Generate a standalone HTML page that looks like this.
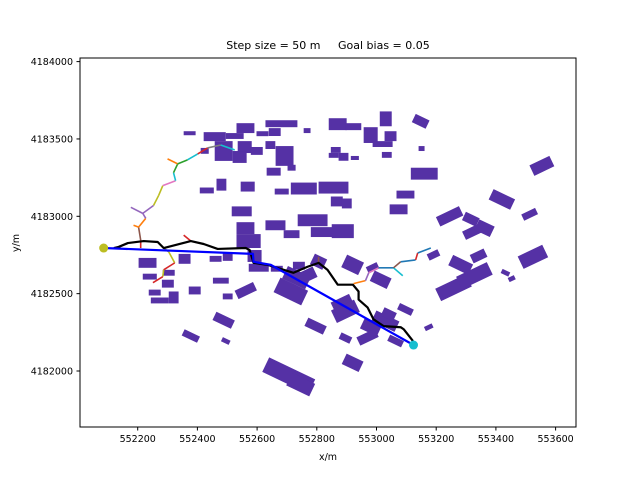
<!DOCTYPE html>
<html><head><meta charset="utf-8"><style>
body{margin:0;background:#fff}
svg{display:block;font-family:"DejaVu Sans","Liberation Sans",sans-serif}
</style></head><body>
<svg id="chart" width="640" height="480" viewBox="0 0 640 480">
<rect width="640" height="480" fill="#fff"/>
<text x="328" y="49" text-anchor="middle" font-size="11" xml:space="preserve">Step size = 50 m     Goal bias = 0.05</text>
<g id="plot"></g>
<text x="328" y="460" text-anchor="middle" font-size="9.5">x/m</text>
<text x="19" y="243" text-anchor="middle" font-size="9.5" transform="rotate(-90 19 243)">y/m</text>
</svg>
<script>
const xTicks=[552200,552400,552600,552800,553000,553200,553400,553600];
const yTicks=[4182000,4182500,4183000,4183500,4184000];
// buildings: [xLeft, yTop, width, height] in metres
const rectBuildings=[[552354,4183550,40,26],[552421,4183544,74,58],[552495,4183538,60,38],[552531,4183602,60,64],[552598,4183550,40,32],[552628,4183621,107,45],[552639,4183570,40,51],[552756,4183570,23,32],[552840,4183634,60,77],[552896,4183602,53,45],[553011,4183678,40,96],[553027,4183550,40,64],[552957,4183576,47,102],[552987,4183486,67,38],[552458,4183486,60,128],[552411,4183442,27,38],[552535,4183486,47,77],[552579,4183448,40,51],[552662,4183454,60,128],[552628,4183486,33,51],[552518,4183422,47,77],[552847,4183448,33,38],[552873,4183410,33,51],[552914,4183390,27,26],[552840,4183410,33,32],[553018,4183416,33,38],[553141,4183454,20,32],[552632,4183314,47,51],[552702,4183333,27,38],[553115,4183314,90,77],[552408,4183186,47,38],[552464,4183243,33,77],[552545,4183224,47,64],[552659,4183179,47,38],[552713,4183218,87,77],[552806,4183224,100,77],[552847,4183128,40,64],[552884,4183115,33,64],[553067,4183166,60,51],[553044,4183077,60,64],[552515,4183064,67,64],[552736,4183013,100,77],[552531,4182962,60,77],[552628,4182974,67,64],[552780,4182930,87,64],[552850,4182949,74,90],[552531,4182885,81,90],[552689,4182910,53,51],[552568,4182782,47,77],[552572,4182693,67,51],[552441,4182744,40,38],[552485,4182763,33,51],[552203,4182731,60,64],[552217,4182629,47,38],[552337,4182757,40,64],[552284,4182654,40,38],[552237,4182526,40,38],[552244,4182475,60,38],[552281,4182590,40,51],[552304,4182514,33,77],[552371,4182546,40,51],[552452,4182603,53,38],[552485,4182501,33,38],[552646,4182680,40,38],[552720,4182706,40,51]];
// rotated buildings: [cx, cy, length, width, angleDeg]
const rotBuildings=[[552488,4182328,24,8,30],[552378,4182226,20,6,30],[552495,4182194,10,4,30],[552562,4182520,24,8,-30],[552732,4182603,30,12,30],[552713,4182514,36,14,30],[552766,4182616,22,10,-30],[552920,4182686,22,12,30],[552987,4182667,14,6,-30],[552887,4182430,24,12,-30],[553014,4182590,22,10,30],[552796,4182290,24,8,30],[552896,4182386,30,12,-30],[552981,4182283,22,10,30],[553030,4182322,30,10,30],[552970,4182219,24,8,-30],[553064,4182194,18,6,30],[553097,4182398,18,6,30],[553041,4182366,16,8,30],[552896,4182213,14,6,30],[552920,4182053,22,10,30],[552706,4181970,60,14,30],[552746,4181912,30,12,30],[553148,4183614,18,8,30],[553191,4182750,14,6,-30],[553175,4182283,10,4,-30],[553258,4182539,40,12,-30],[553328,4182616,40,12,-30],[553282,4182686,26,10,30],[553342,4182744,18,8,-30],[553245,4183000,30,9,-30],[553316,4182981,18,8,30],[553319,4182898,20,8,-30],[553362,4182923,20,10,30],[553420,4183109,28,10,30],[553513,4183013,18,6,-30],[553554,4183326,26,10,-30],[553524,4182738,32,12,-30],[553432,4182635,10,4,30],[553453,4182597,8,4,-30],[552806,4182706,16,10,30]];
// search tree branches
const treeColors=["#d62728","#8c564b","#ff7f0e","#ff7f0e","#9467bd","#9467bd","#bcbd22","#bcbd22","#e377c2","#17becf","#2ca02c","#ff7f0e","#2ca02c","#17becf","#d62728","#7f7f7f","#17becf","#d62728","#8c564b","#7f7f7f","#bcbd22","#d62728","#bcbd22","#d62728","#ff7f0e","#9467bd","#e377c2","#1f77b4","#17becf","#8c564b","#1f77b4","#d62728","#1f77b4","#9467bd"];
const treeX0=[552210,552210,552203,552203,552227,552217,552253,552270,552284,552327,552320,552334,552334,552367,552401,552434,552478,552354,552806,552287,552304,552324,552287,552284,552923,552963,552974,553007,553057,553057,553081,553131,553138,552217];
const treeY0=[4182795,4182846,4182930,4182930,4182987,4183019,4183070,4183134,4183198,4183230,4183282,4183339,4183339,4183365,4183403,4183442,4183461,4182878,4182738,4182795,4182770,4182699,4182654,4182610,4182565,4182584,4182635,4182667,4182667,4182667,4182706,4182718,4182763,4183019];
const treeX1=[552210,552203,552186,552227,552217,552177,552270,552284,552327,552320,552334,552300,552367,552401,552434,552478,552525,552378,552806,552304,552324,552287,552284,552251,552963,552974,553007,553057,553088,553081,553131,553138,553182,552253];
const treeY1=[4182846,4182930,4182942,4182987,4183019,4183058,4183134,4183198,4183230,4183282,4183339,4183371,4183365,4183403,4183442,4183461,4183429,4182840,4182699,4182770,4182699,4182654,4182610,4182571,4182584,4182635,4182667,4182667,4182616,4182706,4182718,4182763,4182795,4183070];
const pathX=[552120,552136,552167,552220,552267,552287,552378,552421,552468,552562,552575,552588,552635,552722,552769,552806,552836,552870,552921,552940,552940,552970,552990,553024,553081,553091,553122];
const pathY=[4182795,4182802,4182827,4182840,4182834,4182795,4182840,4182821,4182789,4182795,4182782,4182699,4182686,4182635,4182674,4182699,4182654,4182558,4182558,4182514,4182462,4182411,4182334,4182290,4182283,4182270,4182194];
const smoothX=[552086,552586,552588,552646,553124];
const smoothY=[4182795,4182757,4182706,4182686,4182168];
const startPt=[552086,4182795];
const goalPt=[553124,4182168];

const sx=x=>137.7+(x-552200)*0.2985;
const sy=y=>371-(y-4182000)*0.1547;
const NS="http://www.w3.org/2000/svg";
const plot=document.getElementById('plot');
function mk(t,a,p){const e=document.createElementNS(NS,t);for(const k in a)e.setAttribute(k,a[k]);(p||plot).appendChild(e);return e;}

rectBuildings.forEach(b=>{
  const e=mk('rect',{x:sx(b[0]),y:sy(b[1]),width:b[2]*0.2985,height:b[3]*0.1547,fill:'#5531a5'});
  
  
});
rotBuildings.forEach(b=>{
  const cx=sx(b[0]),cy=sy(b[1]);
  const L=b[2]*0.85,W=b[3]*1.15,a=b[4]*0.85;
  const e=mk('rect',{x:cx-L/2,y:cy-W/2,width:L,height:W,fill:'#5531a5',transform:`rotate(${a} ${cx} ${cy})`});
  
  
});
treeColors.forEach((c,i)=>{
  const e=mk('line',{x1:sx(treeX0[i]),y1:sy(treeY0[i]),x2:sx(treeX1[i]),y2:sy(treeY1[i]),stroke:c,'stroke-width':1.6});
  
  
});
const raw=mk('polyline',{points:pathX.map((x,i)=>sx(x)+','+sy(pathY[i])).join(' '),fill:'none',stroke:'#000','stroke-width':2.2,'stroke-linejoin':'round'});


const sm=mk('polyline',{points:smoothX.map((x,i)=>sx(x)+','+sy(smoothY[i])).join(' '),fill:'none',stroke:'#0000ff','stroke-width':2.2,'stroke-linejoin':'round'});


const st=mk('circle',{cx:sx(startPt[0]),cy:sy(startPt[1]),r:4.5,fill:'#bcbd22'});


const gl=mk('circle',{cx:sx(goalPt[0]),cy:sy(goalPt[1]),r:4.5,fill:'#17becf'});



const frame=mk('rect',{x:80,y:58,width:496,height:369,fill:'none',stroke:'#000','stroke-width':1});


xTicks.forEach(t=>{
  const x=sx(t);
  const l=mk('line',{x1:x,y1:427,x2:x,y2:430.5,stroke:'#000'});
  
  
  const s=mk('text',{x:x,y:442,'text-anchor':'middle','font-size':9.5});
  s.textContent=t;
  
  
});
yTicks.forEach(t=>{
  const y=sy(t);
  const l=mk('line',{x1:76.5,y1:y,x2:80,y2:y,stroke:'#000'});
  
  
  const s=mk('text',{x:73,y:y+3.5,'text-anchor':'end','font-size':9.5});
  s.textContent=t;
  
  
});
</script>
</body></html>
